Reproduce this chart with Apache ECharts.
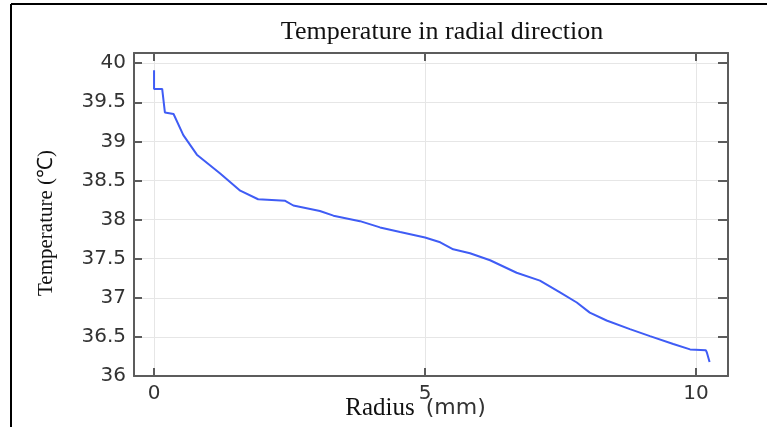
<!DOCTYPE html>
<html>
<head>
<meta charset="utf-8">
<script src="https://cdn.jsdelivr.net/npm/echarts@6/dist/echarts.min.js"></script>
<style>
html,body{margin:0;padding:0;background:#fff;}
#chart{width:767px;height:427px;}
</style>
</head>
<body>
<div id="chart"></div>
<script>
const chartTitle = 'Temperature in radial direction';
const xName = 'Radius';
const xUnit = '(mm)';
const yName = 'Temperature (\u2103)';
const xTicks = [0, 5, 10];
const radius = [0, 0, 0.15, 0.2, 0.36, 0.54, 0.79, 1.22, 1.59, 1.92, 2.42, 2.57, 3.06, 3.31, 3.8, 4.17, 4.54, 5.0, 5.28, 5.52, 5.83, 6.2, 6.69, 7.12, 7.49, 7.8, 8.04, 8.35, 8.78, 9.15, 9.58, 9.89, 10.18, 10.2, 10.25];
const temperature = [39.91, 39.67, 39.67, 39.37, 39.35, 39.08, 38.83, 38.59, 38.37, 38.26, 38.24, 38.18, 38.11, 38.05, 37.98, 37.90, 37.84, 37.77, 37.71, 37.62, 37.57, 37.48, 37.32, 37.22, 37.07, 36.94, 36.81, 36.71, 36.60, 36.51, 36.41, 36.34, 36.33, 36.30, 36.18];

const points = radius.map((r, i) => [r, temperature[i]]);
const axisColor = '#5c5c5c';
const xMin = -0.37, xMax = 10.59, yMin = 36, yMax = 40.13;

const chart = echarts.init(document.getElementById('chart'), null, {renderer: 'canvas'});
chart.setOption({
  animation: false,
  backgroundColor: '#fff',
  title: {
    text: chartTitle,
    left: 437,
    top: 14,
    textAlign: 'center',
    textStyle: {fontFamily: 'Liberation Serif', fontSize: 26, fontWeight: 'normal', color: '#111'}
  },
  graphic: [
    {type: 'line', shape: {x1: 11, y1: 4, x2: 767, y2: 4}, style: {stroke: '#000', lineWidth: 2}},
    {type: 'line', shape: {x1: 11, y1: 4, x2: 11, y2: 427}, style: {stroke: '#000', lineWidth: 2}}
  ],
  grid: {left: 134, right: 39, top: 53, bottom: 51, containLabel: false, outerBoundsMode: 'none'},
  xAxis: [{
    type: 'value', position: 'bottom', min: xMin, max: xMax,
    name: '{a|' + xName + '}{b|' + xUnit + '}',
    nameLocation: 'middle', nameGap: 20, nameMoveOverlap: false,
    nameTextStyle: {
      padding: [0, 31, 0, 0],
      rich: {
        a: {fontFamily: 'Liberation Serif', fontSize: 25, color: '#111'},
        b: {fontFamily: 'DejaVu Sans', fontSize: 22, color: '#333', padding: [0, 0, 0, 11]}
      }
    },
    axisLine: {show: true, onZero: false, lineStyle: {color: axisColor, width: 2}},
    axisTick: {show: true, inside: true, length: 8, customValues: xTicks, lineStyle: {color: axisColor, width: 2}},
    axisLabel: {customValues: xTicks, margin: 8, fontFamily: 'DejaVu Sans', fontSize: 20, color: '#333'},
    splitLine: {show: true, lineStyle: {color: '#e6e6e6', width: 1}}
  }, {
    type: 'value', position: 'top', min: xMin, max: xMax,
    axisLine: {show: true, onZero: false, lineStyle: {color: axisColor, width: 2}},
    axisTick: {show: true, inside: true, length: 8, customValues: xTicks, lineStyle: {color: axisColor, width: 2}},
    axisLabel: {show: false},
    splitLine: {show: false}
  }],
  yAxis: [{
    type: 'value', position: 'left', min: yMin, max: yMax, interval: 0.5,
    name: yName, nameLocation: 'middle', nameGap: 77, nameRotate: 90,
    nameTextStyle: {fontFamily: 'Liberation Serif', fontSize: 21, color: '#111', padding: [0, 17, 0, 0], align: 'center'},
    axisLine: {show: true, onZero: false, lineStyle: {color: axisColor, width: 2}},
    axisTick: {show: true, inside: true, length: 8, lineStyle: {color: axisColor, width: 2}},
    axisLabel: {margin: 8, fontFamily: 'DejaVu Sans', fontSize: 20, color: '#333',
      formatter: v => (Math.abs(v - Math.round(v)) < 1e-9 ? String(Math.round(v)) : v.toFixed(1))},
    splitLine: {show: true, lineStyle: {color: '#e6e6e6', width: 1}}
  }, {
    type: 'value', position: 'right', min: yMin, max: yMax, interval: 0.5,
    axisLine: {show: true, onZero: false, lineStyle: {color: axisColor, width: 2}},
    axisTick: {show: true, inside: true, length: 10, lineStyle: {color: axisColor, width: 2}},
    axisLabel: {show: false},
    splitLine: {show: false}
  }],
  series: [{
    type: 'line',
    data: points,
    xAxisIndex: 0, yAxisIndex: 0,
    showSymbol: false,
    smooth: false,
    lineStyle: {color: '#3f5cf5', width: 2},
    itemStyle: {color: '#3f5cf5'}
  }]
});
</script>
</body>
</html>
